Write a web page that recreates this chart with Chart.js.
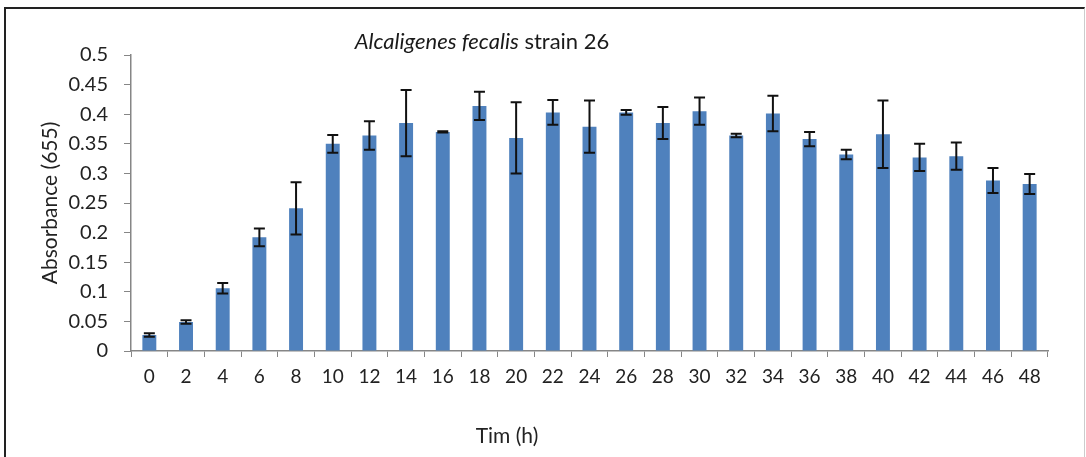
<!DOCTYPE html>
<html>
<head>
<meta charset="utf-8">
<script src="https://cdn.jsdelivr.net/npm/chart.js@4"></script>
<style>
  html, body { margin: 0; padding: 0; background: #fff; }
  #wrap { position: relative; width: 1086px; height: 457px; overflow: hidden; }
  #frame {
    position: absolute; left: 4px; top: 7px; width: 1078px; height: 470px;
    border-left: 2px solid #222; border-top: 2px solid #222; border-right: 1px solid #ccc;
  }
  .label {
    position: absolute; text-align: center; white-space: nowrap;
    font-family: Lato, sans-serif; color: #1a1a1a;
  }
  #title { left: 282px; width: 400px; top: 27px; font-size: 22px; }
  #xtitle { left: 407px; width: 200px; top: 422px; font-size: 21px; color: #222; }
  canvas { position: absolute; left: 0; top: 0; }
</style>
</head>
<body>
<div id="wrap">
  <div id="frame"></div>
  <canvas id="chart" width="1086" height="457"></canvas>
  <div id="title" class="label"><i>Alcaligenes fecalis</i> strain 26</div>
  <div id="xtitle" class="label">Tim (h)</div>
</div>
<script>
const hours = ['0', '2', '4', '6', '8', '10', '12', '14', '16', '18', '20', '22', '24',
    '26', '28', '30', '32', '34', '36', '38', '40', '42', '44', '46', '48'];
const absorbance = [0.027, 0.049, 0.106, 0.192, 0.241, 0.350, 0.364, 0.385, 0.370, 0.414,
    0.360, 0.403, 0.379, 0.403, 0.385, 0.405, 0.364, 0.401, 0.358, 0.332,
    0.366, 0.327, 0.329, 0.288, 0.282];
const errors = [0.003, 0.003, 0.009, 0.015, 0.044, 0.015, 0.024, 0.056, 0.001, 0.024,
    0.060, 0.021, 0.044, 0.004, 0.027, 0.023, 0.003, 0.030, 0.012, 0.008,
    0.057, 0.023, 0.023, 0.021, 0.017];

const errorBars = {
    id: 'errorBars',
    afterDatasetsDraw(chart) {
        const ctx = chart.ctx;
        const meta = chart.getDatasetMeta(0);
        const y = chart.scales.y;
        ctx.save();
        ctx.strokeStyle = '#111';
        ctx.lineWidth = 2;
        meta.data.forEach((bar, i) => {
            const v = absorbance[i];
            const e = errors[i];
            const top = y.getPixelForValue(v + e);
            const bottom = y.getPixelForValue(v - e);
            ctx.beginPath();
            ctx.moveTo(bar.x, top);
            ctx.lineTo(bar.x, bottom);
            ctx.moveTo(bar.x - 5.5, top);
            ctx.lineTo(bar.x + 5.5, top);
            ctx.moveTo(bar.x - 5.5, bottom);
            ctx.lineTo(bar.x + 5.5, bottom);
            ctx.stroke();
        });
        ctx.restore();
    }
};

new Chart(document.getElementById('chart'), {
    type: 'bar',
    data: {
        labels: hours,
        datasets: [{
            data: absorbance,
            backgroundColor: '#4f81bd',
            categoryPercentage: 1,
            barPercentage: 0.38
        }]
    },
    plugins: [errorBars],
    options: {
        responsive: false,
        animation: false,
        layout: { padding: { left: 0, right: 38, top: 55, bottom: 0 } },
        plugins: {
            legend: { display: false },
            tooltip: { enabled: false }
        },
        scales: {
            x: {
                afterFit(scale) { scale.height = 106; },
                grid: {
                    drawOnChartArea: false,
                    tickLength: 6,
                    color: '#868686'
                },
                border: { color: '#868686', width: 1.5 },
                ticks: {
                    color: '#222',
                    padding: 8,
                    maxRotation: 0,
                    autoSkip: false,
                    font: { family: 'Lato', size: 19 }
                }
            },
            y: {
                min: 0,
                max: 0.5,
                afterFit(scale) { scale.width = 131; },
                grid: {
                    drawOnChartArea: false,
                    tickLength: 7,
                    color: '#868686'
                },
                border: { color: '#868686', width: 1.5 },
                ticks: {
                    stepSize: 0.05,
                    color: '#222',
                    padding: 16,
                    font: { family: 'Lato', size: 20 },
                    callback: v => String(Math.round(v * 100) / 100)
                },
                title: {
                    display: true,
                    text: 'Absorbance (655)',
                    color: '#222',
                    padding: { top: 38, bottom: 0 },
                    font: { family: 'Lato', size: 21 }
                }
            }
        }
    }
});
</script>
</body>
</html>
